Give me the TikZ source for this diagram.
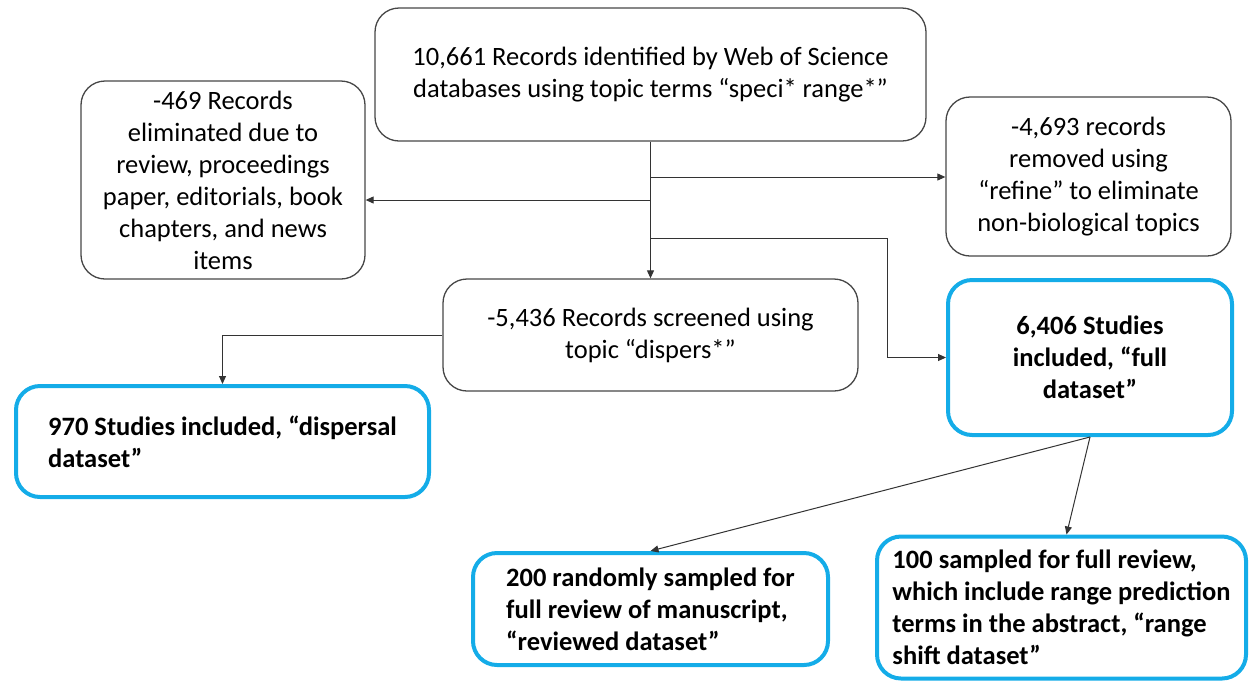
\documentclass[tikz,border=0pt]{standalone}
\usepackage{fontspec}
\setmainfont{Carlito}
\usetikzlibrary{arrows.meta}
\definecolor{boxblue}{RGB}{20,172,232}
\definecolor{boxgray}{RGB}{70,70,70}
\begin{document}
\begin{tikzpicture}[x=1pt,y=-1pt,
  every node/.style={font=\fontsize{26.5}{32}\selectfont, inner sep=0pt},
  graybox/.style={draw=boxgray, line width=1.3pt, rounded corners=24pt, align=center},
  bluebox/.style={draw=boxblue, line width=4pt, rounded corners=24pt, font=\fontsize{26.5}{32}\selectfont\bfseries},
  conn/.style={draw=black!80, line width=1pt, -{Triangle[length=8pt,width=7pt]}},
  plainline/.style={draw=black!80, line width=1pt}]
\useasboundingbox (0,0) rectangle (1249,681);
% gray boxes
\node[graybox, minimum width=551pt, minimum height=133pt] (A) at (650.5,74.5)
  {10,661 Records identified by Web of Science\\databases using topic terms “speci* range*”};
\node[graybox, minimum width=284pt, minimum height=198pt] (B) at (223,180)
  {-469 Records\\eliminated due to\\review, proceedings\\paper, editorials, book\\chapters, and news\\items};
\node[graybox, minimum width=285pt, minimum height=159pt] (C) at (1088.5,176.5)
  {-4,693 records\\removed using\\“refine” to eliminate\\non-biological topics};
\node[graybox, minimum width=415pt, minimum height=112pt] (D) at (650.5,335)
  {-5,436 Records screened using\\topic “dispers*”};
% blue boxes
\node[bluebox, align=center, minimum width=284pt, minimum height=155pt] (E) at (1090,357.5)
  {6,406 Studies\\included, “full\\dataset”};
\node[bluebox, align=left, minimum width=413pt, minimum height=111pt] (F) at (222.5,441.5)
  {970 Studies included, “dispersal\\dataset”};
\node[bluebox, align=left, minimum width=355pt, minimum height=112pt] (G) at (650.5,609)
  {200 randomly sampled for\\full review of manuscript,\\“reviewed dataset”};
\node[bluebox, align=left, minimum width=369pt, minimum height=142pt] (H) at (1061.5,607.5)
  {100 sampled for full review,\\which include range prediction\\terms in the abstract, “range\\shift dataset”};
% junctions
\coordinate (j1) at (650.5,177);
\coordinate (j2) at (650.5,200);
\coordinate (j3) at (650.5,238);
\coordinate (k) at (887,238);
% connectors
\draw[conn] (A.south) -- (D.north);
\draw[conn] (j1) -- (j1 -| C.west);
\draw[conn] (j2) -- (j2 -| B.east);
\draw[plainline] (j3) -- (k);
\draw[conn] (k) |- (E.west);
\draw[conn] (D.west) -| (F.north);
\draw[conn] (E.south) -- (G.north);
\draw[conn] (E.south) -- ([xshift=5pt]H.north);
\end{tikzpicture}
\end{document}
